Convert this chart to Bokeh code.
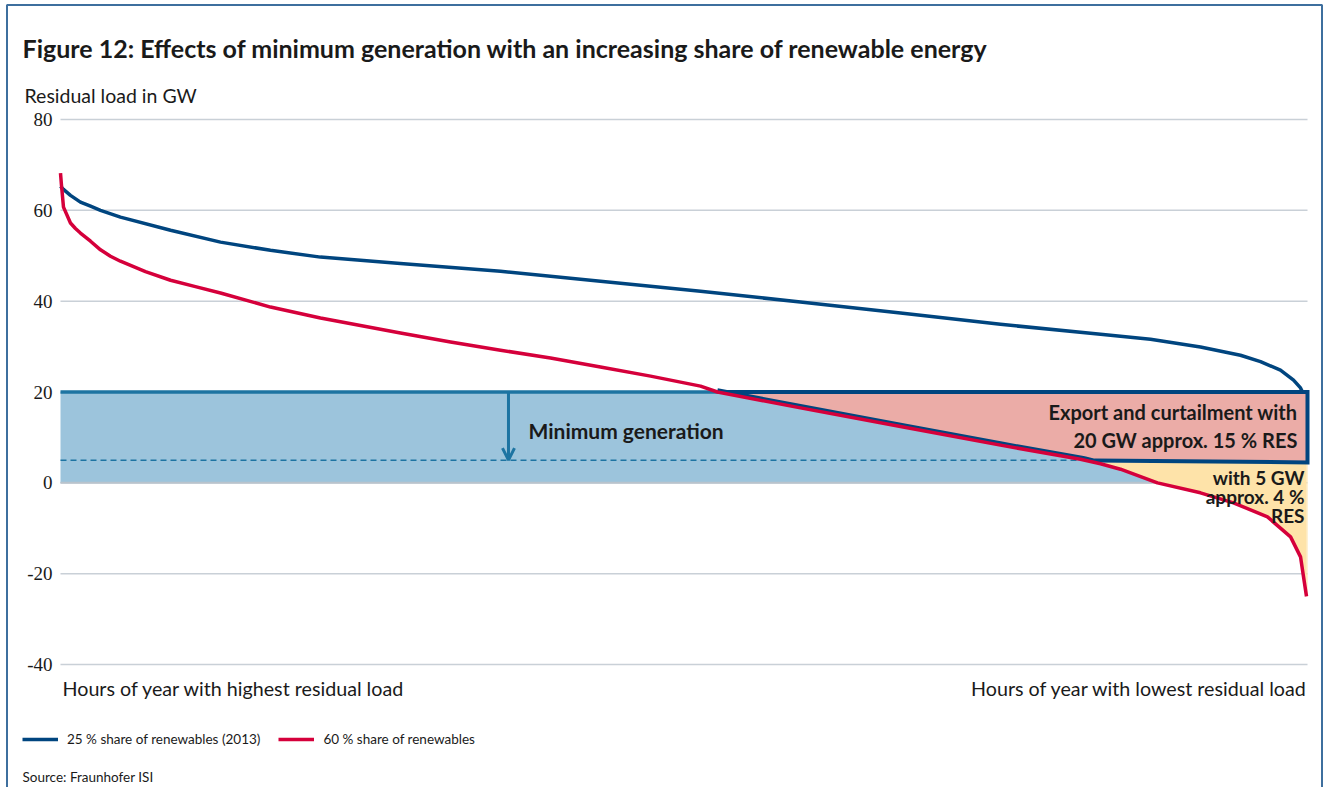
import numpy as np
from bokeh.plotting import figure
from bokeh.models import Label, Legend, LegendItem, Arrow, OpenHead, Range1d
from bokeh.embed import file_html
from bokeh.resources import INLINE

# ---------------- data ----------------
# duration curves: hour of year (sorted by residual load) -> residual load in GW
HOURS_25 = [0, 21, 70, 140, 211, 281, 421, 773, 1124, 1475, 1826, 2388, 3091, 3793, 4496,
            5198, 5901, 6603, 7306, 7657, 8008, 8289, 8430, 8570, 8662, 8711, 8725]
LOAD_25 = [65.3, 64.6, 63.3, 61.8, 60.9, 60.0, 58.5, 55.6, 53.0, 51.2, 49.7, 48.3, 46.6,
           44.4, 42.2, 39.8, 37.4, 34.9, 32.7, 31.6, 29.9, 28.1, 26.7, 24.8, 22.6, 20.9, 20.0]

HOURS_60 = [0, 7, 21, 70, 105, 140, 211, 281, 351, 421, 597, 773, 948, 1124, 1475, 1826,
            2388, 2740, 3091, 3442, 3793, 4145, 4496, 4615, 5198, 5901, 6603, 7165, 7306,
            7446, 7706, 8008, 8240, 8479, 8641, 8711, 8732, 8753]
LOAD_60 = [68.2, 65.5, 60.7, 57.2, 56.0, 55.0, 53.2, 51.3, 49.9, 48.8, 46.5, 44.6, 43.2,
           41.8, 38.7, 36.3, 33.0, 31.0, 29.2, 27.5, 25.5, 23.5, 21.3, 20.0, 16.5, 12.4,
           8.3, 5.2, 4.2, 3.0, 0.0, -2.2, -4.4, -7.5, -11.9, -16.3, -20.7, -25.0]

SERIES_NAMES = ["25 % share of renewables (2013)", "60 % share of renewables"]
HOURS_IN_YEAR = 8760
MIN_GEN_HIGH = 20      # GW minimum generation (today)
MIN_GEN_LOW = 5        # GW minimum generation (reduced)
BOX_LOW = 4.5          # lower edge of the export/curtailment box
Y_TICKS = [-40, -20, 0, 20, 40, 60, 80]
Y_TICK_LABELS = ["-40", "-20", "0", "20", "40", "60", "80"]
ARROW_HOUR = 3147

TITLE = "Figure 12: Effects of minimum generation with an increasing share of renewable energy"
Y_TITLE = "Residual load in GW"
X_LEFT = "Hours of year with highest residual load"
X_RIGHT = "Hours of year with lowest residual load"
SOURCE = "Source: Fraunhofer ISI"

# ---------------- layout (pixels) ----------------
FIG_W, FIG_H = 1324, 787
PLOT_L, PLOT_R, PLOT_T, PLOT_B = 60, 1307, 119, 664
Y_MIN, Y_MAX = -40, 80
PPU_X = (PLOT_R - PLOT_L) / HOURS_IN_YEAR
PPU_Y = (PLOT_B - PLOT_T) / (Y_MAX - Y_MIN)

def hx(px):
    return (px - PLOT_L) / PPU_X

def gy(py):
    return Y_MAX - (py - PLOT_T) / PPU_Y

# ---------------- colours / fonts ----------------
NAVY = "#00457f"
RED = "#d5003b"
TEAL = "#1d74a2"
FILL_BLUE = "#9cc4dc"
FILL_PINK = "#ebaca7"
FILL_YELLOW = "#fee3a9"
GRID = "#c9d0d7"
FRAME = "#3e6f9e"
TXT = "#1a1a1a"
FONT = "Lato"

h60 = np.array(HOURS_60, dtype=float)
l60 = np.array(LOAD_60, dtype=float)

def crossing(level):
    return np.interp(level, l60[::-1], h60[::-1])

xs = np.unique(np.concatenate([h60, [crossing(v) for v in (0, BOX_LOW, MIN_GEN_LOW, MIN_GEN_HIGH)]]))
ys = np.interp(xs, h60, l60)
cross0 = crossing(0)
cross20 = crossing(MIN_GEN_HIGH)
cross_box = crossing(BOX_LOW)
cross5 = crossing(MIN_GEN_LOW)

p = figure(width=FIG_W, height=FIG_H, output_backend="svg", toolbar_location=None,
           title=None, x_axis_location=None, y_axis_location=None,
           x_range=Range1d(hx(0), hx(FIG_W)), y_range=Range1d(gy(FIG_H), gy(0)),
           min_border=0)
p.outline_line_color = None
p.background_fill_color = "white"
p.border_fill_color = "white"
p.grid.visible = False

# outer frame (left, top, right)
p.line([hx(6.5), hx(6.5), hx(1321.5), hx(1321.5)], [gy(FIG_H), gy(4.5), gy(4.5), gy(FIG_H)],
       line_color=FRAME, line_width=2)

# gridlines and tick labels
p.segment(x0=0, x1=HOURS_IN_YEAR, y0=Y_TICKS, y1=Y_TICKS, line_color=GRID, line_width=1.5)
p.text(x=[0] * len(Y_TICKS), y=Y_TICKS, text=Y_TICK_LABELS, x_offset=-8,
       text_align="right", text_baseline="middle", text_font=FONT,
       text_font_size="19px", text_color=TXT)

# ---------------- areas ----------------
p.varea(x=xs, y1=0, y2=np.clip(ys, 0, MIN_GEN_HIGH), fill_color=FILL_BLUE)
p.varea(x=xs, y1=np.clip(ys, BOX_LOW, MIN_GEN_HIGH), y2=MIN_GEN_HIGH, fill_color=FILL_PINK)
p.varea(x=xs, y1=np.minimum(ys, BOX_LOW), y2=BOX_LOW, fill_color=FILL_YELLOW)
p.varea(x=[xs[-1], HOURS_IN_YEAR], y1=[BOX_LOW, BOX_LOW], y2=[MIN_GEN_HIGH, MIN_GEN_HIGH],
        fill_color=FILL_PINK)
p.varea(x=[xs[-1], HOURS_IN_YEAR], y1=[ys[-1], ys[-1]], y2=[BOX_LOW, BOX_LOW],
        fill_color=FILL_YELLOW)
# zero line visible along the bottom of the minimum generation area
p.line([0, cross0], [0, 0], line_color="#b9c3cc", line_width=2)

p.line([0, cross5], [MIN_GEN_LOW, MIN_GEN_LOW], line_color=TEAL, line_width=1.5,
       line_dash="6 4")
p.line([0, cross20], [MIN_GEN_HIGH, MIN_GEN_HIGH], line_color=TEAL, line_width=3.5)

mask = (xs >= cross20) & (xs <= cross_box)
bx = list(xs[mask]) + [HOURS_IN_YEAR, HOURS_IN_YEAR, cross20]
by = list(ys[mask] + 0.4) + [BOX_LOW, MIN_GEN_HIGH, MIN_GEN_HIGH]
p.line(bx, by, line_color=NAVY, line_width=4, line_join="miter")

# ---------------- curves ----------------
r25 = p.line(HOURS_25, LOAD_25, line_color=NAVY, line_width=3.5, line_join="round")
r60 = p.line(HOURS_60, LOAD_60, line_color=RED, line_width=3.5, line_join="round")

p.add_layout(Arrow(x_start=ARROW_HOUR, y_start=MIN_GEN_HIGH, x_end=ARROW_HOUR,
                   y_end=MIN_GEN_LOW, line_color=TEAL, line_width=3,
                   end=OpenHead(size=12, line_color=TEAL, line_width=3)))

def lab(text, x, y, units="data", size="20px", style="normal", align="left",
        baseline="middle", **kw):
    p.add_layout(Label(x=x, y=y, x_units=units, y_units=units, text=text,
                       text_font=FONT, text_font_size=size, text_font_style=style,
                       text_align=align, text_baseline=baseline, text_color=TXT, **kw))

lab("Minimum generation", hx(528), gy(430), size="21px", style="bold")
lab("Export and curtailment with", hx(1297), gy(411), size="20px", style="bold", align="right")
lab("20 GW approx. 15 % RES", hx(1297), gy(439), size="20px", style="bold", align="right")
lab("with 5 GW", hx(1304), gy(477), size="19px", style="bold", align="right")
lab("approx. 4 %", hx(1304), gy(496), size="19px", style="bold", align="right")
lab("RES", hx(1304), gy(515), size="19px", style="bold", align="right")

# outside texts
lab(TITLE, hx(22), gy(47), size="25px", style="bold", baseline="alphabetic")
lab(Y_TITLE, hx(24), gy(95), size="19.5px", baseline="alphabetic")
lab(X_LEFT, 0, Y_MIN, size="19.7px", x_offset=2, y_offset=-24)
lab(X_RIGHT, HOURS_IN_YEAR, Y_MIN, size="19.7px", align="right", y_offset=-24)
lab(SOURCE, hx(22), gy(776), size="13.5px")

legend = Legend(items=[LegendItem(label=SERIES_NAMES[0], renderers=[r25]),
                       LegendItem(label=SERIES_NAMES[1], renderers=[r60])],
                location=(22, FIG_H - 749), orientation="horizontal", glyph_width=36,
                glyph_height=20, label_standoff=9, spacing=18, padding=10, margin=0,
                label_text_font=FONT, label_text_font_size="13.5px",
                label_text_color=TXT, border_line_color=None,
                background_fill_alpha=0)
p.add_layout(legend)

open("out.html", "w").write(file_html(p, INLINE))
